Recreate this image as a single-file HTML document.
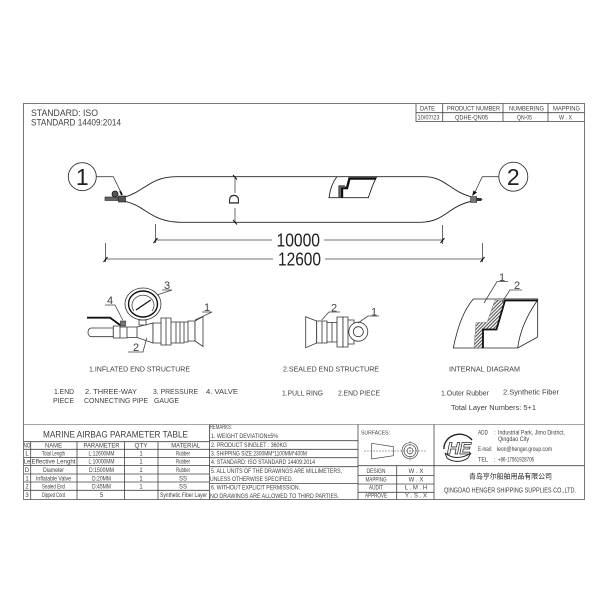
<!DOCTYPE html>
<html><head><meta charset="utf-8"><style>
html,body{margin:0;padding:0;background:#fff}
svg{display:block;filter:blur(.3px)}
text{font-family:"Liberation Sans","Noto Sans CJK SC",sans-serif;fill:#404040;font-size:6px}
.l{stroke:#444;stroke-width:.8;fill:none}
.d{stroke:#222;stroke-width:.9;fill:none}
.t{stroke:#444;stroke-width:.8;fill:none}
.w{fill:#fff;stroke:#333;stroke-width:.8}
</style></head><body>
<svg width="600" height="600" viewBox="0 0 600 600" xmlns="http://www.w3.org/2000/svg">
<defs><pattern id="h" width="2.4" height="2.4" patternUnits="userSpaceOnUse" patternTransform="rotate(45)"><rect width="2.4" height="2.4" fill="#fff"/><rect width="1.1" height="2.4" fill="#555"/></pattern></defs>
<!-- frame -->
<path d="M23.5 103.5H584.5V499.5H23.5Z" fill="none" stroke="#777" stroke-width="1"/>
<path d="M23.5 424.5H584.5" stroke="#888" stroke-width=".8"/>
<!-- header table -->
<path class="t" d="M416 103.5V121.5H584.5M416 112.7H584.5M442.7 103.5V121.5M503 103.5V121.5M548 103.5V121.5"/>
<text x="420" y="110.4" textLength="15" lengthAdjust="spacingAndGlyphs">DATE</text>
<text x="447" y="110.4" textLength="53" lengthAdjust="spacingAndGlyphs">PRODUCT NUMBER</text>
<text x="509" y="110.4" textLength="35" lengthAdjust="spacingAndGlyphs">NUMBERING</text>
<text x="553" y="110.4" textLength="27" lengthAdjust="spacingAndGlyphs">MAPPING</text>
<text x="417.5" y="119.3" textLength="22" lengthAdjust="spacingAndGlyphs">10/07/23</text>
<text x="455" y="119.3" textLength="33" lengthAdjust="spacingAndGlyphs">QDHE-QN05</text>
<text x="517" y="119.3" textLength="15" lengthAdjust="spacingAndGlyphs">QN-05</text>
<text x="559" y="119.3" textLength="13" lengthAdjust="spacingAndGlyphs">W . X</text>
<text x="31" y="116" style="font-size:9px" textLength="67" lengthAdjust="spacingAndGlyphs">STANDARD: ISO</text>
<text x="31" y="125.7" style="font-size:9px" textLength="90" lengthAdjust="spacingAndGlyphs">STANDARD 14409:2014</text>
<!-- airbag -->
<path class="d" d="M125 197C145 191 150 177 176 176.7H425C445 177 450 191 470.7 196.7M125 201.5C145 205 150 222 181 222.3H420C445 222 447 207 470.7 201.5"/>
<path class="d" d="M336.7 177C332 183 330 190 329 197.7H368.3C371 190 373 183 376.7 177"/>
<path d="M342 197.5V188H347L349.5 178.5H376" fill="none" stroke="#111" stroke-width="2.4"/>
<path d="M339.5 197.5V186.5H345" fill="none" stroke="#555" stroke-width="2.4"/>
<!-- left valve -->
<rect x="105" y="197" width="13" height="3.5" fill="#666" stroke="#222" stroke-width=".6"/>
<rect x="118.5" y="196" width="7" height="6" fill="#555" stroke="#111" stroke-width=".6"/>
<circle cx="115" cy="194" r="3" fill="#555" stroke="#111" stroke-width=".8"/>
<path d="M120 191l2 4" stroke="#111" stroke-width="1.8"/>
<circle cx="82.3" cy="176.7" r="14" fill="#fff" stroke="#333" stroke-width=".9"/>
<text x="82.3" y="185" text-anchor="middle" style="font-size:23px;fill:#222">1</text>
<path class="l" d="M96.5 176.7H113.3L120.7 191.7"/>
<!-- right valve -->
<rect x="470.7" y="196.7" width="6" height="5.6" fill="#777" stroke="#111" stroke-width=".6"/>
<path d="M476.7 198H481L482.5 199.5L481 201H476.7Z" fill="#333"/>
<circle cx="513.3" cy="176.7" r="14.5" fill="#fff" stroke="#333" stroke-width=".9"/>
<text x="513.3" y="185" text-anchor="middle" style="font-size:23px;fill:#222">2</text>
<path class="l" d="M498.8 176.7H482.3L475 192"/>
<path d="M472 196L473.5 190.5L477 192.5Z" fill="#111"/>
<!-- D dim -->
<path class="l" d="M235 177V193M235 208V222.3"/>
<path d="M233 175L237 179.5M233 220L237 224.5" stroke="#111" stroke-width="1"/>
<text transform="translate(239,199.5) rotate(-90)" text-anchor="middle" style="font-size:15px;fill:#333">D</text>
<!-- dims -->
<path class="l" d="M155.5 224V243M155 240H272M324 240H442.5M442.5 225V244M105.5 243V262M105 259H273M325 259H482.5M482.5 243V262"/>
<path d="M153.5 243L157.5 238M440.5 243L444.5 238M103.5 262L107.5 257M480.5 262L484.5 257" stroke="#111" stroke-width="1.1"/>
<text x="276.5" y="246.5" style="font-size:18px;fill:#222" textLength="43.5" lengthAdjust="spacingAndGlyphs">10000</text>
<text x="278" y="265.5" style="font-size:18px;fill:#222" textLength="43" lengthAdjust="spacingAndGlyphs">12600</text>
<!-- inflated end -->
<path d="M87 317.7H110L120 325" fill="none" stroke="#111" stroke-width="1.8"/>
<path class="w" d="M91 328H113.3V336.7H91C87 336 87 329 91 328Z"/>
<path class="w" d="M113.3 326H120V338H113.3ZM120 327H127V338H120ZM127 327H137V337.5H127ZM137 327L153 323V343L137 337.5Z"/>
<rect x="120.5" y="321" width="5" height="5" fill="#777" stroke="#222" stroke-width=".6"/>
<path class="w" d="M139 320H146V325H139Z"/>
<path class="w" d="M153 323H161V343H153ZM161 318H166V345H161ZM166 318H171V345H166ZM171 322H176V343H171ZM176 322H180V343H176ZM180 322H184V343H180ZM184 322H188V342H184ZM188 321H195V341H188Z"/>
<path class="w" d="M195 321L203 316.5V346.5L195 341Z"/>
<ellipse cx="143" cy="304" rx="18" ry="16" fill="#fff" stroke="#333" stroke-width=".8"/>
<ellipse cx="143" cy="304" rx="14.5" ry="13" fill="#fff" stroke="#111" stroke-width="1.4"/>
<path class="l" d="M134 311A11 10 0 1 1 152 311"/>
<path d="M136 310L150.7 300" stroke="#111" stroke-width="1.3"/>
<path class="l" d="M105 305H115L122.7 320M162 290H172L157 295M128 352H143L146.7 338M202 312H212L195 320"/>
<text x="110" y="304" text-anchor="middle" style="font-size:11px">4</text>
<text x="167" y="289" text-anchor="middle" style="font-size:11px">3</text>
<text x="136" y="351" text-anchor="middle" style="font-size:11px">2</text>
<text x="207" y="311" text-anchor="middle" style="font-size:11px">1</text>
<!-- sealed end -->
<path class="w" d="M305.7 316.7L316.7 321V343L305.7 347.7Z"/>
<path class="w" d="M316.7 321H322V343H316.7ZM322 321H327V343H322ZM327 322.5H332V342H327ZM332 322.5H337V342H332Z"/>
<path class="w" d="M337 317V347H343V317Z"/>
<path class="w" d="M343 317H348V347H343ZM348 320H354V344H348Z"/>
<circle cx="358.3" cy="331.7" r="9.5" fill="#fff" stroke="#333" stroke-width=".8"/>
<circle cx="358.3" cy="331.7" r="5" fill="#fff" stroke="#333" stroke-width=".8"/>
<path class="l" d="M340 312H329L321.7 320M379 316H368L358 323"/>
<text x="334" y="311.5" text-anchor="middle" style="font-size:11px">2</text>
<text x="374" y="315.5" text-anchor="middle" style="font-size:11px">1</text>
<!-- internal diagram -->
<path class="d" style="stroke-width:.8" d="M453.3 348C458 325 464 310 473.3 299H537.7V337L517.7 348ZM537.7 300C527 315 520 330 517.7 348"/>
<path d="M495 300L487 322.5H476L474 348H482.5V329.5H496.5L505 301Z" fill="url(#h)" stroke="#777" stroke-width=".5"/>
<path d="M537.7 300.5H505L496.5 329.5H483V348" fill="none" stroke="#111" stroke-width="1.8"/>
<path d="M537.7 298.8H505" stroke="#777" stroke-width="1"/>
<path class="l" d="M508 281.5H497L484 303M522 290H510L502 302"/>
<text x="502" y="281" text-anchor="middle" style="font-size:11px">1</text>
<text x="517" y="289" text-anchor="middle" style="font-size:11px">2</text>
<!-- captions -->
<text x="89" y="371.7" style="font-size:7px" textLength="101" lengthAdjust="spacingAndGlyphs">1.INFLATED END STRUCTURE</text>
<text x="54" y="394" style="font-size:7px" textLength="20" lengthAdjust="spacingAndGlyphs">1.END</text>
<text x="53" y="403" style="font-size:7px" textLength="21" lengthAdjust="spacingAndGlyphs">PIECE</text>
<text x="85" y="394" style="font-size:7px" textLength="52" lengthAdjust="spacingAndGlyphs">2. THREE-WAY</text>
<text x="84" y="403" style="font-size:7px" textLength="64" lengthAdjust="spacingAndGlyphs">CONNECTING PIPE</text>
<text x="153" y="394" style="font-size:7px" textLength="45" lengthAdjust="spacingAndGlyphs">3. PRESSURE</text>
<text x="154" y="403" style="font-size:7px" textLength="25" lengthAdjust="spacingAndGlyphs">GAUGE</text>
<text x="206" y="394" style="font-size:7px" textLength="32" lengthAdjust="spacingAndGlyphs">4. VALVE</text>
<text x="283" y="371.7" style="font-size:7px" textLength="96" lengthAdjust="spacingAndGlyphs">2.SEALED END STRUCTURE</text>
<text x="282" y="395.5" style="font-size:7px" textLength="41" lengthAdjust="spacingAndGlyphs">1.PULL RING</text>
<text x="338" y="395.5" style="font-size:7px" textLength="42" lengthAdjust="spacingAndGlyphs">2.END PIECE</text>
<text x="449" y="371.7" style="font-size:7px" textLength="71" lengthAdjust="spacingAndGlyphs">INTERNAL DIAGRAM</text>
<text x="441" y="395.5" style="font-size:7px" textLength="48" lengthAdjust="spacingAndGlyphs">1.Outer Rubber</text>
<text x="503" y="394.5" style="font-size:7px" textLength="56" lengthAdjust="spacingAndGlyphs">2.Synthetic Fiber</text>
<text x="451" y="410" style="font-size:7px" textLength="85" lengthAdjust="spacingAndGlyphs">Total Layer Numbers: 5+1</text>
<!-- param table -->
<path class="t" d="M23.5 441.7H209.5M23.5 449.3H209.5M23.5 457.5H209.5M23.5 465.5H209.5M23.5 474H209.5M23.5 482H209.5M23.5 490.3H209.5M30.7 441.7V499.5M77 441.7V499.5M124.5 441.7V499.5M158 441.7V499.5M209.5 424.5V499.5"/>
<text x="43" y="437.3" style="font-size:9px" textLength="145" lengthAdjust="spacingAndGlyphs">MARINE AIRBAG PARAMETER TABLE</text>
<g text-anchor="middle" style="font-size:5.3px">
<text x="27" y="447.5" textLength="7" lengthAdjust="spacingAndGlyphs">NO</text><text x="53.5" y="447.5" textLength="17" lengthAdjust="spacingAndGlyphs">NAME</text><text x="101.5" y="447.5" textLength="36" lengthAdjust="spacingAndGlyphs">PARAMETER</text><text x="141" y="447.5" textLength="13" lengthAdjust="spacingAndGlyphs">QTY</text><text x="185.7" y="447.5" textLength="29" lengthAdjust="spacingAndGlyphs">MATERIAL</text>
<text x="27" y="455.5">L</text><text x="53.5" y="455.5" textLength="23" lengthAdjust="spacingAndGlyphs">Total Length</text><text x="101.5" y="455.5" textLength="26" lengthAdjust="spacingAndGlyphs">L:12600MM</text><text x="141" y="455.5">1</text><text x="183" y="455.5" textLength="14" lengthAdjust="spacingAndGlyphs">Rubber</text>
<text x="27" y="463.5">Le</text><text x="53.5" y="463.5" textLength="44" lengthAdjust="spacingAndGlyphs">Effective Lenght</text><text x="101.5" y="463.5" textLength="26" lengthAdjust="spacingAndGlyphs">L:10000MM</text><text x="141" y="463.5">1</text><text x="183" y="463.5" textLength="14" lengthAdjust="spacingAndGlyphs">Rubber</text>
<text x="27" y="472">D</text><text x="53.5" y="472" textLength="21" lengthAdjust="spacingAndGlyphs">Diameter</text><text x="101.5" y="472" textLength="25" lengthAdjust="spacingAndGlyphs">D:1500MM</text><text x="141" y="472">1</text><text x="183" y="472" textLength="14" lengthAdjust="spacingAndGlyphs">Rubber</text>
<text x="27" y="480.3">1</text><text x="53.5" y="480.3" textLength="35" lengthAdjust="spacingAndGlyphs">Inflatable Valve</text><text x="101.5" y="480.3" textLength="19" lengthAdjust="spacingAndGlyphs">D:20MM</text><text x="141" y="480.3">1</text><text x="183" y="480.3">SS</text>
<text x="27" y="488.7">2</text><text x="53.5" y="488.7" textLength="23" lengthAdjust="spacingAndGlyphs">Sealed End</text><text x="101.5" y="488.7" textLength="19" lengthAdjust="spacingAndGlyphs">D:45MM</text><text x="141" y="488.7">1</text><text x="183" y="488.7">SS</text>
<text x="27" y="497">3</text><text x="53.5" y="497" textLength="23" lengthAdjust="spacingAndGlyphs">Dipped Cord</text><text x="101.5" y="497">5</text><text x="183.5" y="497" textLength="47" lengthAdjust="spacingAndGlyphs">Synthetic Fiber Layer</text>
</g>
<!-- remarks -->
<path class="t" d="M209.5 440.7H358M209.5 449.3H358M209.5 457.7H358M209.5 466.7H358M209.5 483.5H358M358 424.5V499.5"/>
<g style="font-size:5.3px">
<text x="210" y="429" textLength="22" lengthAdjust="spacingAndGlyphs">REMARKS:</text>
<text x="211" y="438" textLength="67" lengthAdjust="spacingAndGlyphs">1. WEIGHT DEVIATION±5%</text>
<text x="211" y="446.8" textLength="76" lengthAdjust="spacingAndGlyphs">2. PRODUCT SINGLET : 360KG</text>
<text x="211" y="455.3" textLength="96" lengthAdjust="spacingAndGlyphs">3. SHIPPING SIZE:2300MM*1100MM*400M</text>
<text x="211" y="464" textLength="104" lengthAdjust="spacingAndGlyphs">4. STANDARD: ISO STANDARD 14409:2014</text>
<text x="211" y="472.8" textLength="131" lengthAdjust="spacingAndGlyphs">5. ALL UNITS OF THE DRAWINGS ARE MILLIMETERS,</text>
<text x="210" y="481" textLength="83" lengthAdjust="spacingAndGlyphs">UNLESS OTHERWISE SPECIFIED.</text>
<text x="211" y="489.3" textLength="89" lengthAdjust="spacingAndGlyphs">6. WITHOUT EXPLICIT PERMISSION.</text>
<text x="210" y="498" textLength="129" lengthAdjust="spacingAndGlyphs">NO DRAWINGS ARE ALLOWED TO THIRD PARTIES.</text>
</g>
<!-- surfaces -->
<text x="361" y="434.5" style="font-size:5.3px" textLength="29" lengthAdjust="spacingAndGlyphs">SURFACES:</text>
<path class="l" style="stroke-width:.7" d="M371.7 443.3L393.3 446.7V455.7L371.7 459Z"/>
<path d="M364 451H426M410 441V461" stroke="#555" stroke-width=".5" stroke-dasharray="2 1"/>
<circle class="l" style="stroke-width:.7" cx="410" cy="450.7" r="8"/><circle class="l" style="stroke-width:.7" cx="410" cy="450.7" r="6"/><circle class="l" style="stroke-width:.7" cx="410" cy="450.7" r="3"/>
<path class="t" d="M358 465.7H584.5M358 475.5H434M358 484H434M358 492.3H434M396.7 465.7V499.5M434 424.5V499.5"/>
<g text-anchor="middle" style="font-size:5.3px">
<text x="376" y="473" textLength="19" lengthAdjust="spacingAndGlyphs">DESIGN</text><text x="416" y="473">W . X</text>
<text x="376" y="481.5" textLength="21" lengthAdjust="spacingAndGlyphs">MAPPING</text><text x="416" y="481.5">W . X</text>
<text x="376" y="489.5" textLength="14" lengthAdjust="spacingAndGlyphs">AUDIT</text><text x="416" y="489.5">L . M . H</text>
<text x="376" y="497.5" textLength="22" lengthAdjust="spacingAndGlyphs">APPROVE</text><text x="416" y="497.5">Y . S . X</text>
</g>
<!-- logo -->
<path d="M444 449A15.5 14 0 0 1 472 440" fill="none" stroke="#222" stroke-width="1.4"/>
<path d="M445 453C452 459 462 459 471 453L468 458C461 463 452 462 447 458Z" fill="#fff" stroke="#222" stroke-width=".9"/>
<text x="459" y="454" text-anchor="middle" style="font-size:17px;font-weight:bold;font-style:italic;fill:#fff;stroke:#222;stroke-width:.7" textLength="24" lengthAdjust="spacingAndGlyphs">HE</text>
<g style="font-size:5.2px">
<text x="478" y="434.5" textLength="10" lengthAdjust="spacingAndGlyphs">ADD</text><text x="494" y="434.5">:</text>
<text x="498" y="434.5" textLength="67" lengthAdjust="spacingAndGlyphs">Industrial Park, Jimo District,</text>
<text x="498" y="441" textLength="31" lengthAdjust="spacingAndGlyphs">Qingdao City</text>
<text x="478" y="451" textLength="14" lengthAdjust="spacingAndGlyphs">E-mail:</text>
<text x="497" y="451" textLength="55" lengthAdjust="spacingAndGlyphs">leon@henger.group.com</text>
<text x="478" y="461.5" textLength="10" lengthAdjust="spacingAndGlyphs">TEL</text><text x="494" y="461.5">:</text>
<text x="498" y="461.5" textLength="36" lengthAdjust="spacingAndGlyphs">+86-17561928706</text>
</g>
<text x="469" y="478.7" style="font-size:7px;fill:#222" textLength="83">青岛亨尔船舶用品有限公司</text>
<text x="444" y="492.7" style="font-size:7px" textLength="132" lengthAdjust="spacingAndGlyphs">QINGDAO HENGER SHIPPING SUPPLIES CO.,LTD.</text>
</svg>
</body></html>
